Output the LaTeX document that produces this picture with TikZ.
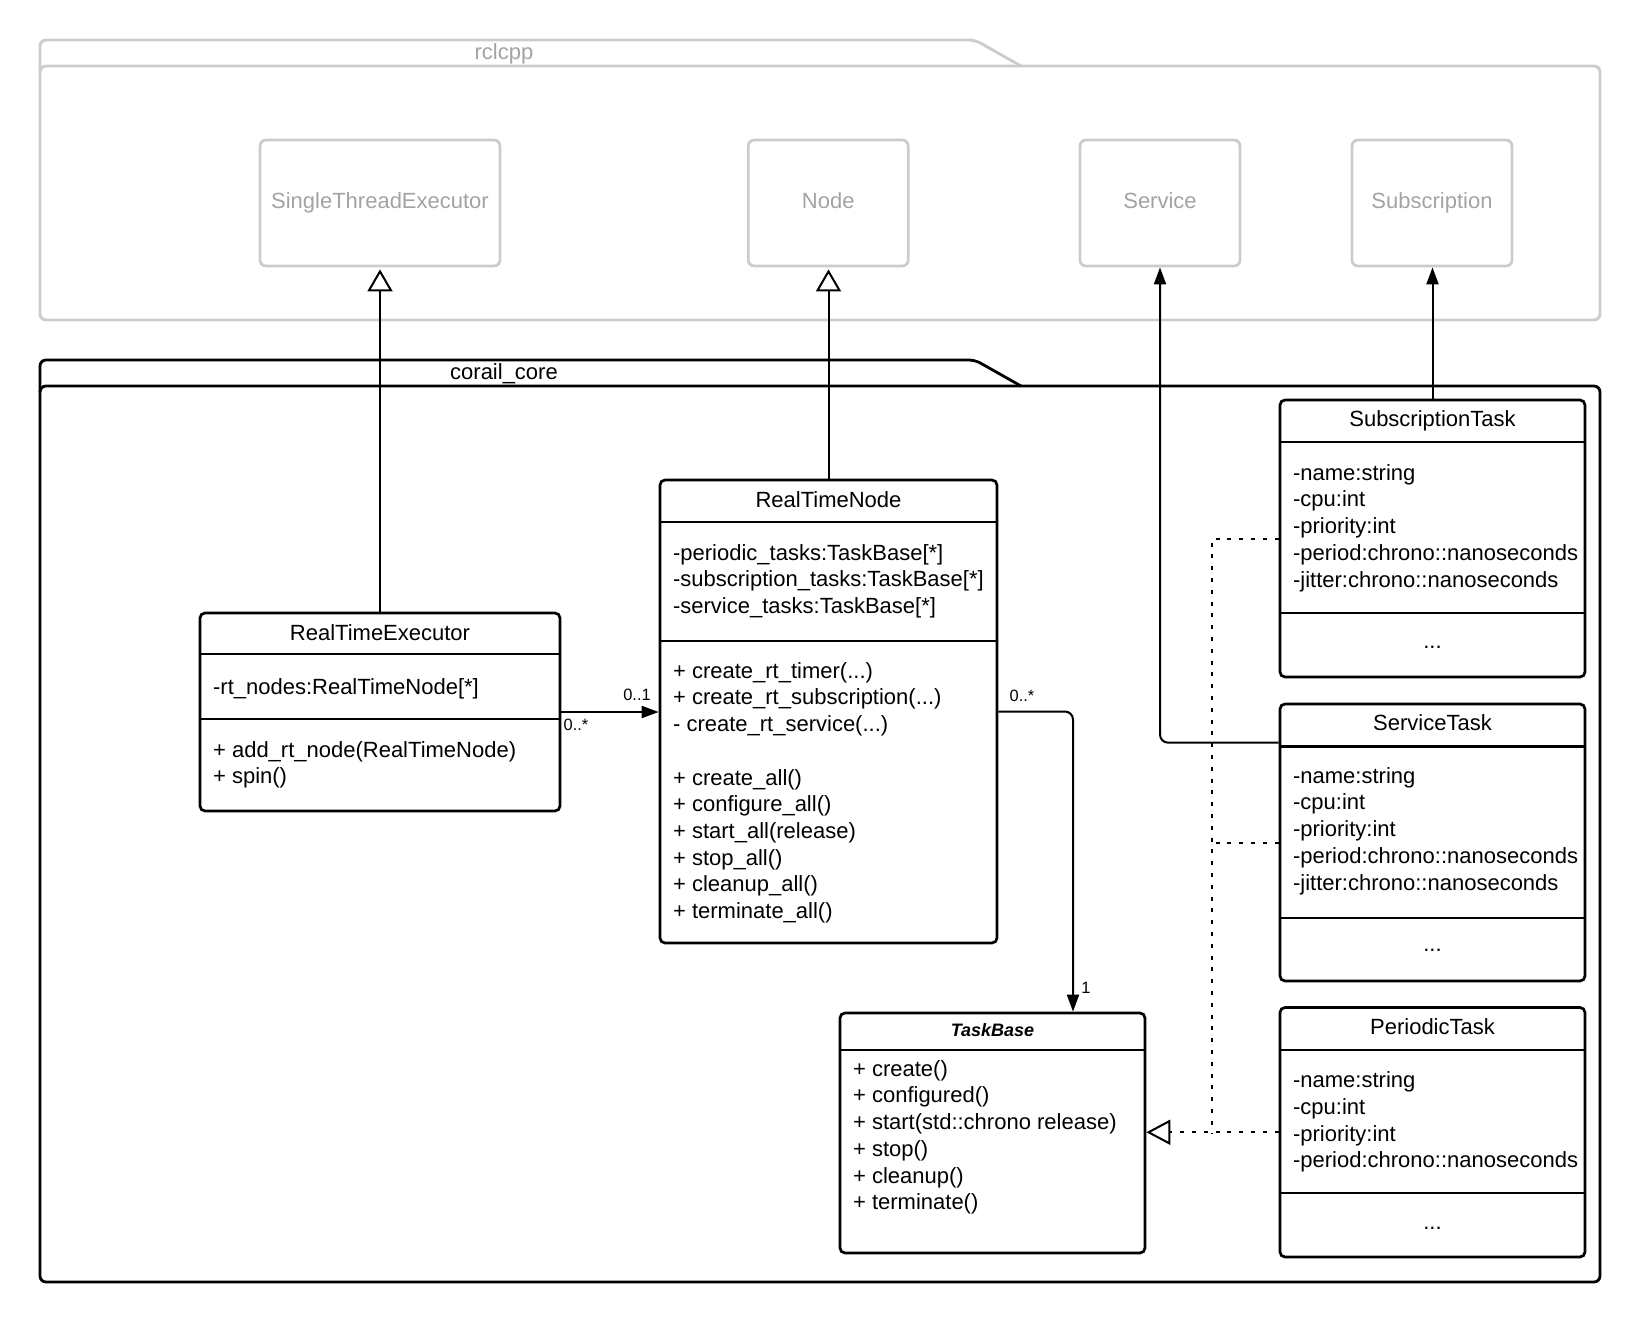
\documentclass[tikz,border=0pt]{standalone}
\usepackage{fontspec}
\setmainfont{Liberation Sans}
\usetikzlibrary{arrows.meta}
\definecolor{gline}{RGB}{204,204,204}
\definecolor{gtext}{RGB}{163,163,163}
\begin{document}
\begin{tikzpicture}[x=0.5pt,y=-0.5pt,
  cls/.style={draw=black, line width=1.35pt, rounded corners=2.5pt, inner sep=0pt, fill=white},
  sepl/.style={line width=1.35pt},
  gbox/.style={draw=gline, line width=1.4pt, rounded corners=3pt, inner sep=0pt, minimum height=63pt,
    text=gtext, font=\fontsize{11}{13}\selectfont, text height=7pt, text depth=2pt},
  pkgbody/.style={line width=1.4pt, rounded corners=3pt, inner sep=0pt},
  ttl/.style={font=\fontsize{11}{13.3}\selectfont, anchor=base, inner sep=0pt},
  cmp/.style={font=\fontsize{11}{13.35}\selectfont, align=left, anchor=north west, inner sep=0pt},
  mult/.style={font=\fontsize{8.2}{9.8}\selectfont, inner sep=0pt},
  conn/.style={line width=1pt},
  gen/.style={conn, -{Triangle[open, length=11pt, width=12.5pt, line width=1pt]}, shorten >=1pt},
  assoc/.style={conn, -{Triangle[length=8.5pt, width=6pt]}},
  real/.style={conn, dash pattern=on 2pt off 3.9pt},
]
\useasboundingbox (0,0) rectangle (1640,1322);

% ---------- package rclcpp ----------
\node[pkgbody, draw=gline, minimum width=780pt, minimum height=127pt] (rclcpp) at (820,193) {};
\draw[draw=gline, line width=1.4pt, rounded corners=3pt] (40,72) -- (40,40) -- (975,40) -- (1021,66);
\node[ttl, text=gtext] (rclcpplbl) at (504,60) {rclcpp};

\node[gbox, minimum width=120pt] (ste) at (380,203) {SingleThreadExecutor};
\node[gbox, minimum width=80pt] (node) at (828.25,203) {Node};
\node[gbox, minimum width=80pt] (svc) at (1160,203) {Service};
\node[gbox, minimum width=80pt] (sub) at (1432,203) {Subscription};

% ---------- package corail_core ----------
\node[pkgbody, draw=black, minimum width=780pt, minimum height=448pt] (corail) at (820,834) {};
\draw[line width=1.4pt, rounded corners=3pt] (40,392) -- (40,360) -- (975,360) -- (1021,386);
\node[ttl] (coraillbl) at (504,379) {corail\_core};

% RealTimeExecutor
\node[cls, minimum width=180pt, minimum height=99pt] (rte) at (380,712) {};
\draw[sepl] (rte.west |- 0,654) -- (rte.east |- 0,654);
\draw[sepl] (rte.west |- 0,719) -- (rte.east |- 0,719);
\node[ttl] (rtettl) at (380,640) {RealTimeExecutor};
\node[cmp] (rteattr) at (212.7,675.2) {\strut -rt\_nodes:RealTimeNode[*]};
\node[cmp] (rtemeth) at (212.7,738.2) {\strut + add\_rt\_node(RealTimeNode)\\+ spin()};

% RealTimeNode
\node[cls, minimum width=168.5pt, minimum height=231.5pt] (rtn) at (828.5,711.5) {};
\draw[sepl] (rtn.west |- 0,522) -- (rtn.east |- 0,522);
\draw[sepl] (rtn.west |- 0,641) -- (rtn.east |- 0,641);
\node[ttl] (rtnttl) at (828.5,507) {RealTimeNode};
\node[cmp] (rtnattr) at (672.7,541.2) {\strut -periodic\_tasks:TaskBase[*]\\-subscription\_tasks:TaskBase[*]\\-service\_tasks:TaskBase[*]};
\node[cmp] (rtnmeth) at (672.7,659.2) {\strut + create\_rt\_timer(...)\\+ create\_rt\_subscription(...)\\- create\_rt\_service(...)\\[13.33pt]+ create\_all()\\+ configure\_all()\\+ start\_all(release)\\+ stop\_all()\\+ cleanup\_all()\\+ terminate\_all()};

% TaskBase
\node[cls, minimum width=152.5pt, minimum height=120pt] (tb) at (992.5,1133) {};
\draw[sepl] (tb.west |- 0,1050) -- (tb.east |- 0,1050);
\node[ttl, font=\fontsize{9}{11}\selectfont\bfseries\itshape] (tbttl) at (992.5,1036.4) {TaskBase};
\node[cmp] (tbmeth) at (852.7,1057.2) {\strut + create()\\+ configured()\\+ start(std::chrono release)\\+ stop()\\+ cleanup()\\+ terminate()};

% SubscriptionTask
\node[cls, minimum width=152.5pt, minimum height=138.5pt] (subt) at (1432.5,538.5) {};
\draw[sepl] (subt.west |- 0,442) -- (subt.east |- 0,442);
\draw[sepl] (subt.west |- 0,613) -- (subt.east |- 0,613);
\node[ttl] (subtttl) at (1432.5,426.3) {SubscriptionTask};
\node[cmp] (subtattr) at (1292.7,461.2) {\strut -name:string\\-cpu:int\\-priority:int\\-period:chrono::nanoseconds\\-jitter:chrono::nanoseconds};
\node[ttl] (subtdots) at (1432.5,648.5) {...};

% ServiceTask
\node[cls, minimum width=152.5pt, minimum height=138.5pt] (svct) at (1432.5,842.5) {};
\draw[sepl] (svct.west |- 0,746.5) -- (svct.east |- 0,746.5);
\draw[sepl] (svct.west |- 0,918) -- (svct.east |- 0,918);
\node[ttl] (svctttl) at (1432.5,730.5) {ServiceTask};
\node[cmp] (svctattr) at (1292.7,764.2) {\strut -name:string\\-cpu:int\\-priority:int\\-period:chrono::nanoseconds\\-jitter:chrono::nanoseconds};
\node[ttl] (svctdots) at (1432.5,951.5) {...};

% PeriodicTask
\node[cls, minimum width=152.5pt, minimum height=124.75pt] (pert) at (1432.5,1132.25) {};
\draw[sepl] (pert.west |- 0,1050) -- (pert.east |- 0,1050);
\draw[sepl] (pert.west |- 0,1193) -- (pert.east |- 0,1193);
\node[ttl] (pertttl) at (1432.5,1034) {PeriodicTask};
\node[cmp] (pertattr) at (1292.7,1068.8) {\strut -name:string\\-cpu:int\\-priority:int\\-period:chrono::nanoseconds};
\node[ttl] (pertdots) at (1432.5,1229) {...};

% ---------- connectors ----------
\draw[gen] (rte.north) -- (ste.south);
\draw[gen] (rtn.north) -- (rtn.north |- node.south);
\draw[assoc, rounded corners=4pt] ([yshift=-20pt]svct.north west) -| (svc.south);
\draw[assoc] (subt.north) -- (subt.north |- sub.south);
\draw[assoc] (rte.east) -- (rte.east -| rtn.west);
\draw[assoc, rounded corners=4pt] (rtn.east) -| ([xshift=40.25pt]tb.north);

\node[mult] (m1) at (637,695) {0..1};
\node[mult] (m2) at (576,725) {0..*};
\node[mult] (m3) at (1022,696) {0..*};
\node[mult] (m4) at (1086,988) {1};

\coordinate (rj) at (1212,1133);
\draw[real, -{Triangle[open, length=12pt, width=12.5pt, line width=1pt]}] (pert.west) -- (pert.west -| tb.east);
\draw[real] (subt.west) -| (rj);
\draw[real] (svct.west) -- (svct.west -| rj);
\end{tikzpicture}
\end{document}
